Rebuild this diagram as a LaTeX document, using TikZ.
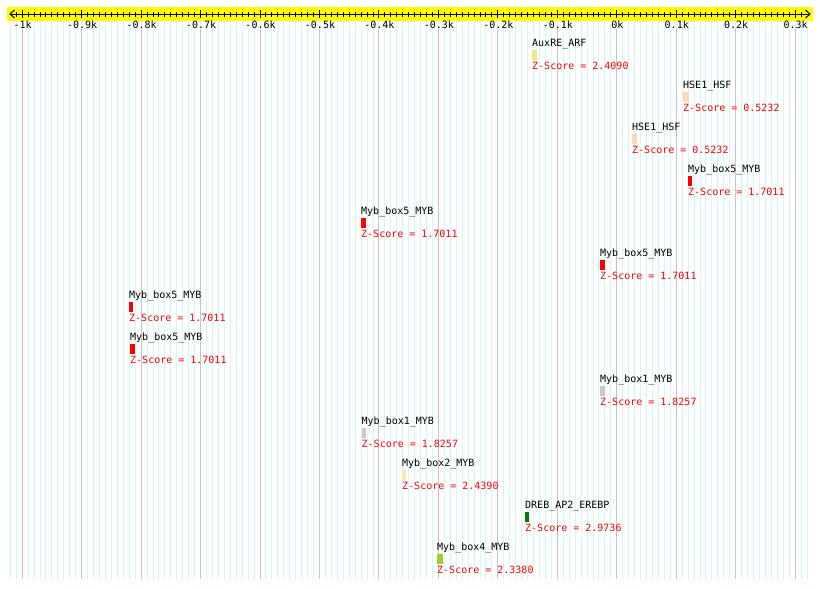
\documentclass[tikz,border=0pt]{standalone}
\usepackage{fontspec}
\newfontfamily\monof{DejaVu Sans Mono}
\definecolor{axyellow}{HTML}{FFFF00}
\definecolor{gridcyan}{HTML}{D2F8F8}
\definecolor{gridgray}{HTML}{C4C4C4}
\definecolor{zred}{HTML}{FF0000}
\definecolor{mkhaki}{HTML}{F0E68C}
\definecolor{mwheat}{HTML}{F5DEB3}
\definecolor{mred}{HTML}{FF0000}
\definecolor{mthistle}{HTML}{D8BFD8}
\definecolor{mmoccasin}{HTML}{FFE4B5}
\definecolor{mgreen}{HTML}{007A00}
\definecolor{myellowgreen}{HTML}{9ACD32}
\tikzset{
  txt/.style={inner sep=0pt, anchor=base west, font=\monof\fontsize{10}{12}\selectfont},
  axlab/.style={inner sep=0pt, anchor=base, font=\monof\fontsize{10}{12}\selectfont},
  zlab/.style={txt, text=zred},
  mbox/.style={inner sep=0pt, draw=none, anchor=north west, minimum height=10.5pt},
  cyanline/.style={draw=gridcyan, line width=1pt},
  grayline/.style={draw=gridgray, line width=1pt},
}
\newcommand\motifrow[6]{%
  \node[txt] (lab#1) at (#2,{46.5+42*#1}) {#5};
  \node[mbox, fill=#4, minimum width=#3pt] (box#1) at (#2,{49.5+42*#1}) {};
  \node[zlab] (z#1) at (#2,{69+42*#1}) {Z-Score = #6};
}
\begin{document}
\begin{tikzpicture}[x=1pt,y=-1pt]
\useasboundingbox[fill=white] (0,0) rectangle (820,589);
% grid
\foreach \v in {-1020,-1010,...,320} {
  \pgfmathsetmacro\gx{round(617.3+0.5946*\v)-0.5}
  \draw[cyanline] (\gx,21) -- (\gx,579);
}
\foreach \v in {-1000,-900,...,300} {
  \pgfmathsetmacro\gx{round(617.3+0.5946*\v)-0.5}
  \draw[grayline] (\gx,29) -- (\gx,579);
}
% axis bar
\fill[axyellow] (7,7) rectangle (813,21);
\coordinate (axL) at (10,14);
\coordinate (axR) at (810,14);
\draw[line width=1pt] (axL) -- (axR);
\draw[line width=1pt] (14.5,10) -- (axL) -- (14.5,18);
\draw[line width=1pt] (805.5,10) -- (axR) -- (805.5,18);
\foreach \v in {-1010,-1000,...,310} {
  \pgfmathsetmacro\gx{round(617.3+0.5946*\v)-0.5}
  \draw[line width=1pt] (\gx,11.5) -- (\gx,16.5);
}
\foreach \v in {-1000,-900,...,300} {
  \pgfmathsetmacro\gx{round(617.3+0.5946*\v)-0.5}
  \draw[line width=1pt] (\gx,10) -- (\gx,18);
}
\foreach \v/\t [count=\i] in {-1000/-1k,-900/-0.9k,-800/-0.8k,-700/-0.7k,-600/-0.6k,-500/-0.5k,-400/-0.4k,-300/-0.3k,-200/-0.2k,-100/-0.1k,0/0k,100/0.1k,200/0.2k,300/0.3k} {
  \node[axlab] (axlab\i) at ({617.3+0.5946*\v},28.5) {\t};
}
% motifs
\motifrow{0}{532}{5}{mkhaki}{AuxRE\_ARF}{2.4090}
\motifrow{1}{683}{6}{mwheat}{HSE1\_HSF}{0.5232}
\motifrow{2}{632}{5}{mwheat}{HSE1\_HSF}{0.5232}
\motifrow{3}{688}{4}{mred}{Myb\_box5\_MYB}{1.7011}
\motifrow{4}{361}{4.5}{mred}{Myb\_box5\_MYB}{1.7011}
\motifrow{5}{600}{4.5}{mred}{Myb\_box5\_MYB}{1.7011}
\motifrow{6}{129}{4}{mred}{Myb\_box5\_MYB}{1.7011}
\motifrow{7}{130}{5}{mred}{Myb\_box5\_MYB}{1.7011}
\motifrow{8}{600}{5}{mthistle}{Myb\_box1\_MYB}{1.8257}
\motifrow{9}{361.5}{4.5}{mthistle}{Myb\_box1\_MYB}{1.8257}
\motifrow{10}{402}{4}{mmoccasin}{Myb\_box2\_MYB}{2.4390}
\motifrow{11}{525}{4}{mgreen}{DREB\_AP2\_EREBP}{2.9736}
\motifrow{12}{437}{6}{myellowgreen}{Myb\_box4\_MYB}{2.3380}
\end{tikzpicture}
\end{document}
